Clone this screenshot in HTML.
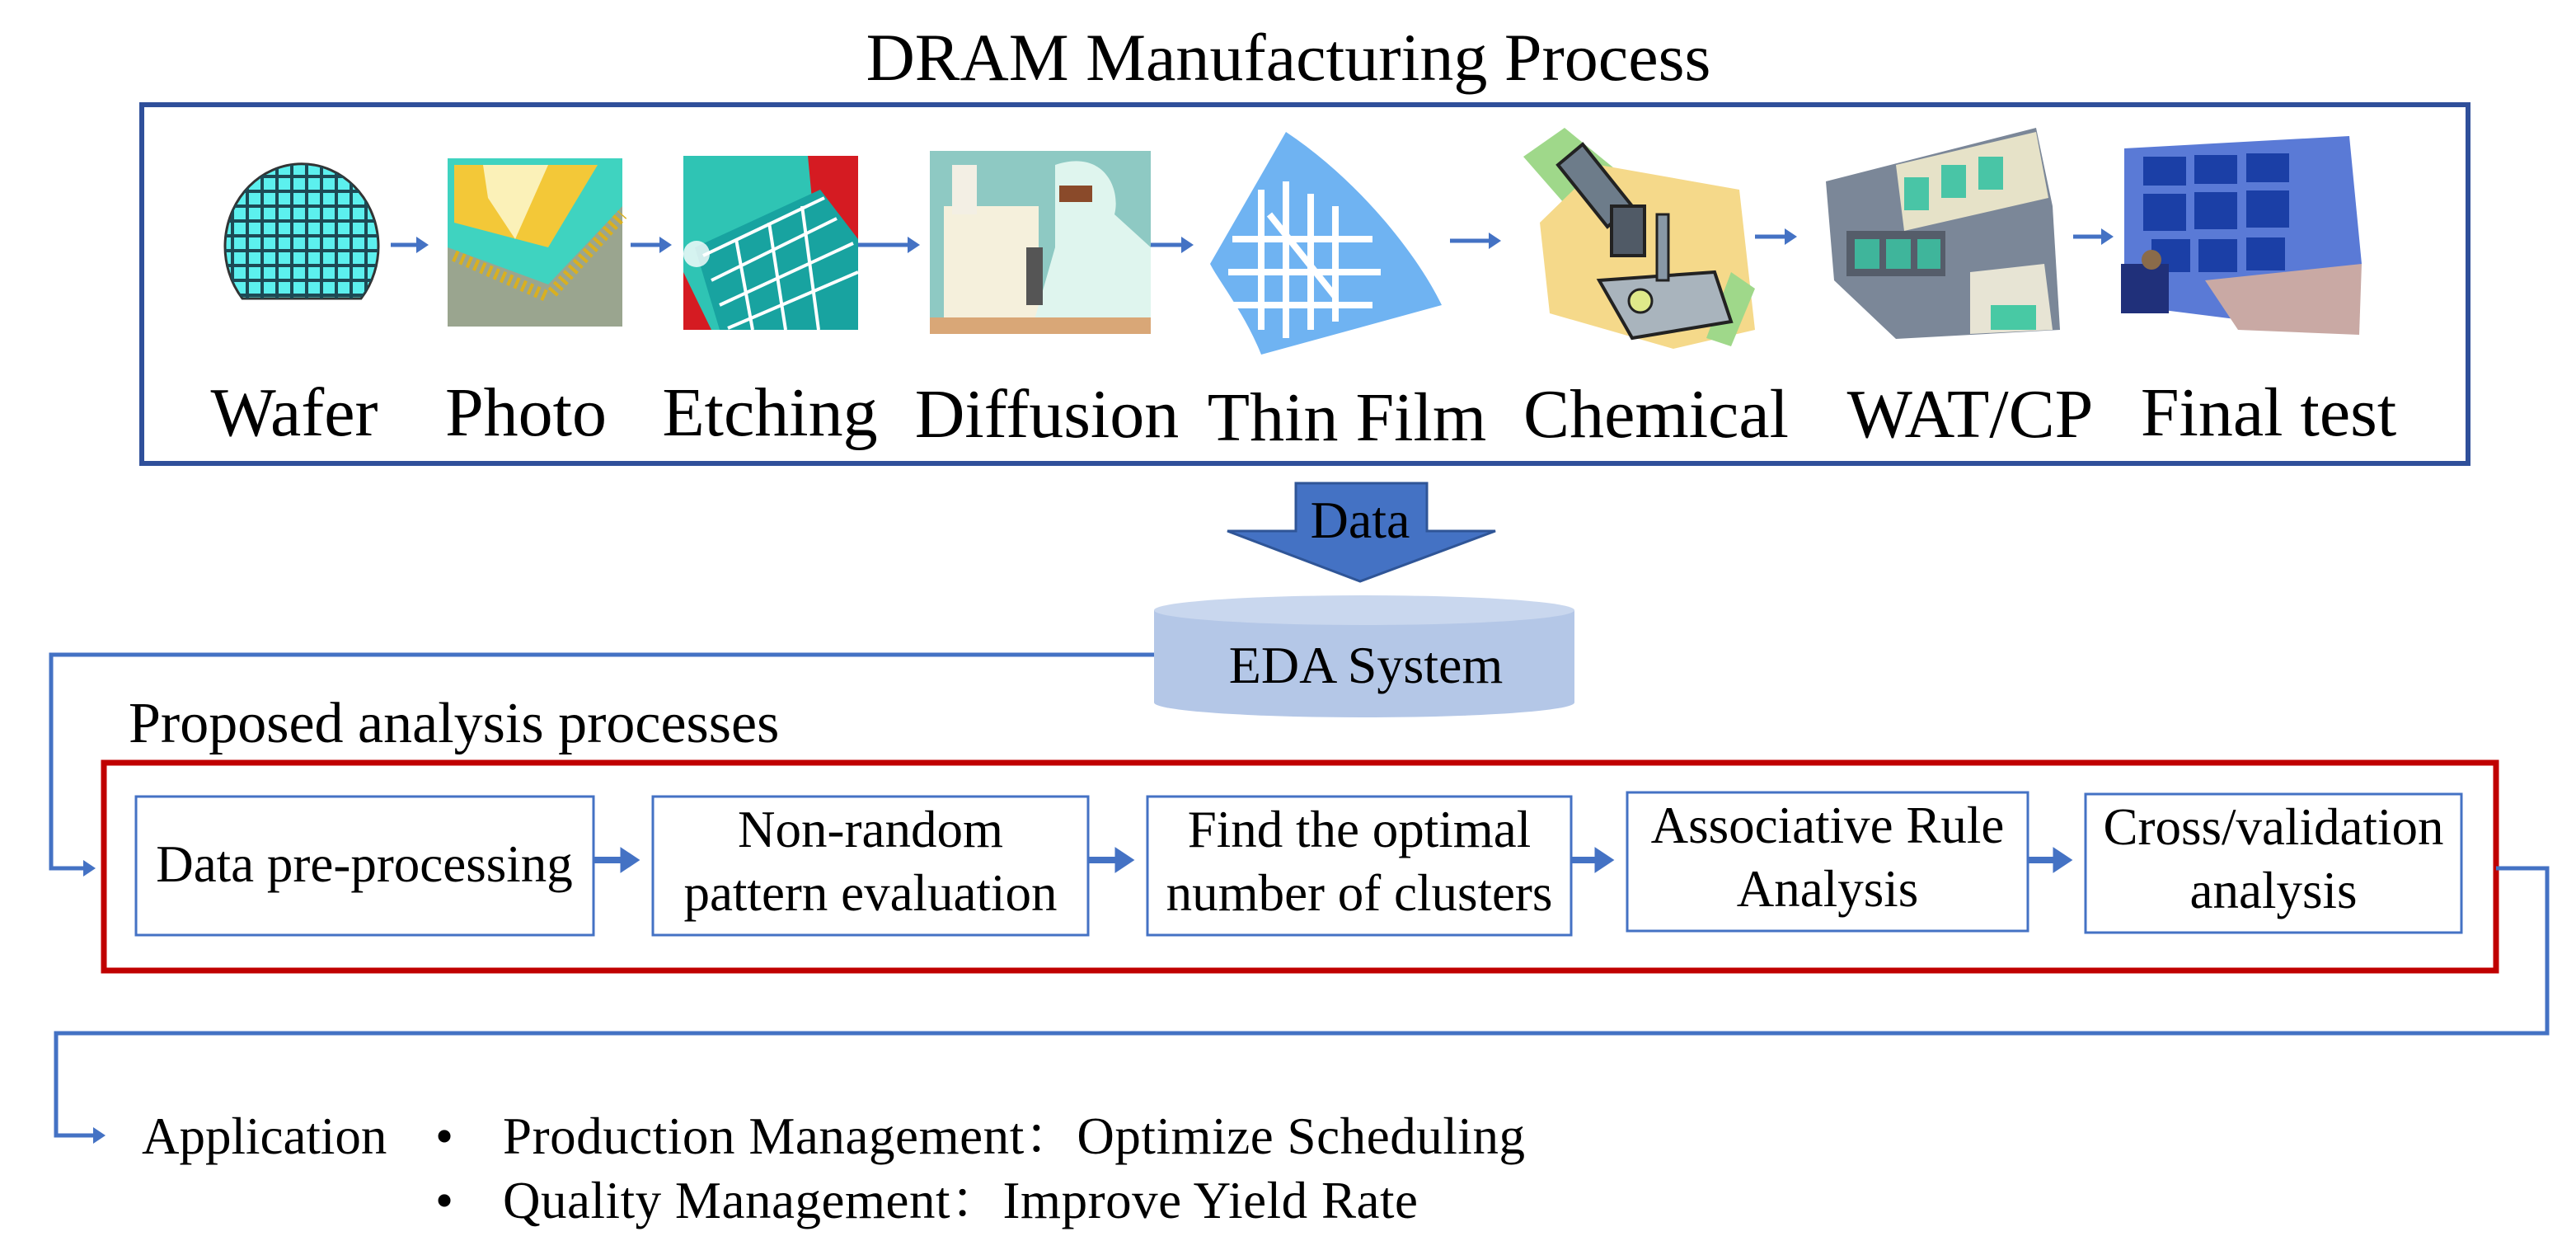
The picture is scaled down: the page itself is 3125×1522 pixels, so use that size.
<!DOCTYPE html>
<html><head><meta charset="utf-8"><style>
html,body{margin:0;padding:0;background:#fff;}
svg{display:block;}
text{font-family:"Liberation Serif","Times New Roman","Noto Serif CJK SC",serif;fill:#000;}
</style></head><body>
<svg width="3125" height="1522" viewBox="0 0 3125 1522" xmlns="http://www.w3.org/2000/svg">
<defs>
<marker id="ah" markerWidth="4" markerHeight="4" refX="2.2" refY="2" orient="auto" markerUnits="strokeWidth"><path d="M0,0 L3,2 L0,4 Z" fill="#4472c4"/></marker>
<clipPath id="wc"><path d="M294,362 A93,100 0 1 1 438,362 Z"/></clipPath>
</defs>

<text x="1563" y="97" font-size="82" text-anchor="middle">DRAM Manufacturing Process</text>
<rect x="172" y="127" width="2822" height="435" fill="none" stroke="#2f4f9a" stroke-width="6"/>

<g>
<path d="M294,362 A93,100 0 1 1 438,362 Z" fill="#5cf0ee" stroke="#333" stroke-width="3"/>
<g clip-path="url(#wc)" stroke="#1d4a55" stroke-width="4">
<line x1="282" y1="190" x2="282" y2="400"/><line x1="300" y1="190" x2="300" y2="400"/><line x1="318" y1="190" x2="318" y2="400"/><line x1="336" y1="190" x2="336" y2="400"/><line x1="354" y1="190" x2="354" y2="400"/><line x1="372" y1="190" x2="372" y2="400"/><line x1="390" y1="190" x2="390" y2="400"/><line x1="408" y1="190" x2="408" y2="400"/><line x1="426" y1="190" x2="426" y2="400"/><line x1="444" y1="190" x2="444" y2="400"/>
<line x1="260" y1="214" x2="470" y2="214"/><line x1="260" y1="232" x2="470" y2="232"/><line x1="260" y1="250" x2="470" y2="250"/><line x1="260" y1="268" x2="470" y2="268"/><line x1="260" y1="286" x2="470" y2="286"/><line x1="260" y1="304" x2="470" y2="304"/><line x1="260" y1="322" x2="470" y2="322"/><line x1="260" y1="340" x2="470" y2="340"/><line x1="260" y1="358" x2="470" y2="358"/>
</g>
</g>
<g>
<rect x="543" y="192" width="212" height="204" fill="#9aa58f"/>
<polygon points="543,192 755,192 755,250 665,345 543,300" fill="#3fd3c0"/>
<polygon points="551,200 725,200 665,300 551,270" fill="#f3c838"/>
<polygon points="586,200 665,200 625,290 592,240" fill="#fbf1b8"/>
<line x1="551" y1="310" x2="665" y2="360" stroke="#d9b020" stroke-width="14" stroke-dasharray="4 5"/>
<line x1="670" y1="355" x2="755" y2="260" stroke="#d9b020" stroke-width="14" stroke-dasharray="4 5"/>
</g>
<g>
<rect x="829" y="189" width="212" height="211" fill="#2fc4b4"/>
<polygon points="980,189 1041,189 1041,400 1000,400" fill="#d51b22"/>
<polygon points="829,330 863,400 829,400" fill="#d51b22"/>
<polygon points="843,300 995,230 1041,290 1041,400 873,400" fill="#18a3a0"/>
<g stroke="#fff" stroke-width="4">
<line x1="853" y1="310" x2="1000" y2="240"/><line x1="863" y1="340" x2="1015" y2="265"/><line x1="873" y1="370" x2="1035" y2="295"/><line x1="883" y1="398" x2="1041" y2="330"/>
<line x1="893" y1="290" x2="913" y2="400"/><line x1="933" y1="270" x2="953" y2="400"/><line x1="973" y1="250" x2="993" y2="400"/>
</g>
<circle cx="845" cy="308" r="16" fill="#fff" opacity="0.8"/>
</g>
<g>
<rect x="1128" y="183" width="268" height="222" fill="#8ec9c3"/>
<rect x="1145" y="250" width="115" height="140" fill="#f5f0dc"/>
<rect x="1155" y="200" width="30" height="60" fill="#f3efe4"/>
<path d="M1280,200 C1340,180 1360,230 1352,260 L1396,300 L1396,405 L1250,405 L1280,300 Z" fill="#dff5ee"/>
<rect x="1285" y="225" width="40" height="20" fill="#8a4a2a"/>
<rect x="1128" y="385" width="268" height="20" fill="#d9a777"/>
<rect x="1245" y="300" width="20" height="70" fill="#555"/>
</g>
<g>
<path d="M1560,160 C1650,220 1720,310 1749,370 L1530,430 C1510,380 1478,340 1468,320 Z" fill="#6fb3f2"/>
<g stroke="#fff" stroke-width="8" fill="none">
<line x1="1530" y1="230" x2="1530" y2="400"/><line x1="1560" y1="220" x2="1560" y2="410"/><line x1="1590" y1="235" x2="1590" y2="400"/><line x1="1620" y1="250" x2="1620" y2="390"/>
<line x1="1495" y1="290" x2="1665" y2="290"/><line x1="1490" y1="330" x2="1675" y2="330"/><line x1="1495" y1="370" x2="1665" y2="370"/>
<path d="M1540,260 L1620,360"/>
</g>
</g>
<g>
<polygon points="1848,190 1898,155 1990,230 1918,270" fill="#9fd88a"/>
<polygon points="1868,270 1940,200 2110,230 2129,400 2030,423 1880,380" fill="#f5d98a"/>
<polygon points="2100,330 2129,350 2100,420 2070,410" fill="#9fd88a"/>
<polygon points="1890,200 1920,175 1980,250 1950,275" fill="#6d7c8a" stroke="#222" stroke-width="4"/>
<rect x="1955" y="250" width="40" height="60" fill="#505a66" stroke="#222" stroke-width="4"/>
<polygon points="1940,340 2080,330 2100,390 1980,410" fill="#a9b4bd" stroke="#222" stroke-width="4"/>
<circle cx="1990" cy="365" r="14" fill="#dfe98a" stroke="#222" stroke-width="3"/>
<rect x="2010" y="260" width="14" height="80" fill="#8898a6" stroke="#222" stroke-width="3"/>
</g>
<g>
<polygon points="2215,220 2470,155 2490,250 2499,400 2300,411 2225,340" fill="#7b8798"/>
<polygon points="2300,200 2470,160 2485,240 2310,280" fill="#e6e2c8"/>
<rect x="2310" y="215" width="30" height="40" fill="#49c5a6"/><rect x="2355" y="200" width="30" height="40" fill="#49c5a6"/><rect x="2400" y="190" width="30" height="40" fill="#49c5a6"/>
<rect x="2240" y="280" width="120" height="55" fill="#555d6a"/>
<rect x="2250" y="290" width="30" height="36" fill="#3fb59b"/><rect x="2288" y="290" width="30" height="36" fill="#3fb59b"/><rect x="2326" y="290" width="28" height="36" fill="#3fb59b"/>
<polygon points="2390,330 2480,320 2490,400 2390,405" fill="#e7e4d4"/>
<rect x="2415" y="370" width="55" height="30" fill="#48c9a4"/>
</g>
<g transform="translate(-35,0)">
<polygon points="2612,180 2885,165 2900,320 2810,395 2612,370" fill="#5a7ad6"/>
<g fill="#1b3fa6"><rect x="2635" y="190" width="52" height="35"/><rect x="2697" y="188" width="52" height="35"/><rect x="2760" y="186" width="52" height="35"/>
<rect x="2635" y="235" width="52" height="45"/><rect x="2697" y="233" width="52" height="45"/><rect x="2760" y="231" width="52" height="45"/>
<rect x="2645" y="290" width="47" height="40"/><rect x="2702" y="290" width="47" height="40"/><rect x="2760" y="288" width="47" height="40"/></g>
<polygon points="2710,340 2900,320 2897,406 2750,400" fill="#c9a9a4"/>
<rect x="2608" y="320" width="58" height="60" fill="#20307a"/>
<circle cx="2645" cy="315" r="12" fill="#8a6b4a"/>
</g>

<g stroke="#4472c4" stroke-width="5" fill="none" marker-end="url(#ah)">
<line x1="474" y1="297" x2="516" y2="297"/>
<line x1="765" y1="297" x2="811" y2="297"/>
<line x1="1041" y1="297" x2="1112" y2="297"/>
<line x1="1396" y1="297" x2="1444" y2="297"/>
<line x1="1759" y1="292" x2="1817" y2="292"/>
<line x1="2129" y1="287" x2="2176" y2="287"/>
<line x1="2515" y1="287" x2="2560" y2="287"/>
</g>

<text x="357" y="528" font-size="84" text-anchor="middle">Wafer</text>
<text x="638" y="528" font-size="84" text-anchor="middle">Photo</text>
<text x="934" y="528" font-size="84" text-anchor="middle">Etching</text>
<text x="1270" y="530" font-size="84" text-anchor="middle">Diffusion</text>
<text x="1634" y="534" font-size="84" text-anchor="middle">Thin Film</text>
<text x="2009" y="530" font-size="84" text-anchor="middle">Chemical</text>
<text x="2390" y="530" font-size="84" text-anchor="middle">WAT/CP</text>
<text x="2752" y="528" font-size="84" text-anchor="middle">Final test</text>

<polygon points="1572,586 1731,586 1731,644 1814,644 1650,705 1489,644 1572,644" fill="#4472c4" stroke="#2f5597" stroke-width="3"/>
<text x="1650" y="652" font-size="64" text-anchor="middle">Data</text>

<path d="M1400,740 L1400,852 A255,18 0 0 0 1910,852 L1910,740 Z" fill="#b4c7e7"/>
<ellipse cx="1655" cy="740" rx="255" ry="18" fill="#c9d7ee"/>
<text x="1657" y="828" font-size="64" text-anchor="middle">EDA System</text>

<polyline points="1400,794 62,794 62,1053 112,1053" fill="none" stroke="#4472c4" stroke-width="5" marker-end="url(#ah)"/>
<text x="156" y="900" font-size="70">Proposed analysis processes</text>

<rect x="126" y="925" width="2902" height="252" fill="none" stroke="#c00000" stroke-width="7"/>

<g fill="#fff" stroke="#4472c4" stroke-width="3">
<rect x="165" y="966" width="555" height="168"/>
<rect x="792" y="966" width="528" height="168"/>
<rect x="1392" y="966" width="514" height="168"/>
<rect x="1974" y="961" width="486" height="168"/>
<rect x="2530" y="963" width="456" height="168"/>
</g>
<g stroke="#4472c4" stroke-width="8" fill="none" marker-end="url(#ah)">
<line x1="720" y1="1043" x2="770" y2="1043"/>
<line x1="1320" y1="1043" x2="1370" y2="1043"/>
<line x1="1906" y1="1043" x2="1952" y2="1043"/>
<line x1="2460" y1="1043" x2="2508" y2="1043"/>
</g>
<g font-size="63" text-anchor="middle">
<text x="442" y="1069">Data pre-processing</text>
<text x="1056" y="1027">Non-random</text>
<text x="1056" y="1104">pattern evaluation</text>
<text x="1649" y="1027">Find the optimal</text>
<text x="1649" y="1104">number of clusters</text>
<text x="2217" y="1022">Associative Rule</text>
<text x="2217" y="1099">Analysis</text>
<text x="2758" y="1024">Cross/validation</text>
<text x="2758" y="1101">analysis</text>
</g>

<polyline points="3028,1053 3090,1053 3090,1253 68,1253 68,1377 124,1377" fill="none" stroke="#4472c4" stroke-width="5" marker-end="url(#ah)"/>

<g font-size="63">
<text x="172" y="1399">Application</text>
<text x="528" y="1399">•</text>
<text x="610" y="1399" textLength="1240">Production Management：Optimize Scheduling</text>
<text x="528" y="1477">•</text>
<text x="610" y="1477" textLength="1110">Quality Management：Improve Yield Rate</text>
</g>
</svg>
</body></html>
